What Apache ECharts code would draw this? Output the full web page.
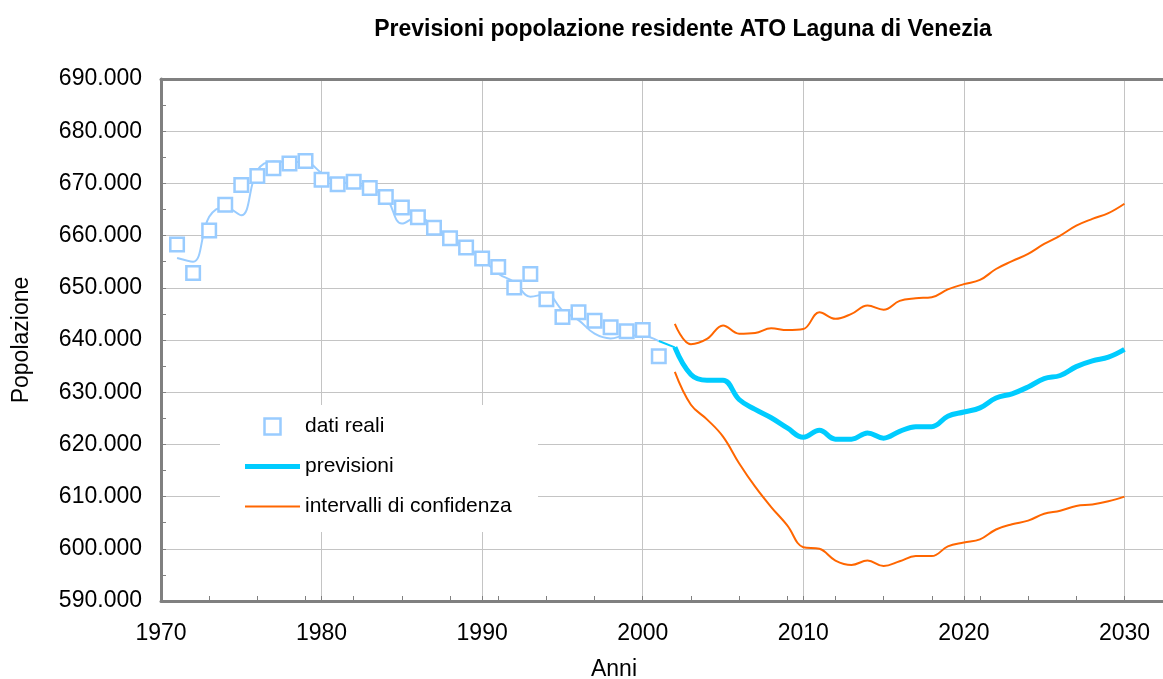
<!DOCTYPE html>
<html>
<head>
<meta charset="utf-8">
<script src="https://cdn.jsdelivr.net/npm/echarts@6/dist/echarts.min.js"></script>
<style>
html,body{margin:0;padding:0;background:#fff}
#chart{width:1163px;height:679px}
</style>
</head>
<body>
<div id="chart"></div>
<script>
// dati reali (quadratini)
var anniReali = [1971,1972,1973,1974,1975,1976,1977,1978,1979,1980,1981,1982,1983,1984,1985,1986,1987,1988,1989,1990,1991,1992,1993,1994,1995,1996,1997,1998,1999,2000,2001];
var datiReali = [658300,652850,661000,665900,669700,671400,672900,673800,674300,670700,669850,670300,669100,667400,665400,663500,661500,659500,657700,655600,654000,650060,652660,647800,644400,645300,643700,642450,641700,641900,636900];
// curva stimata sui dati reali (linea sottile)
var stimaReali = [655700,655000,663600,665500,663900,672500,674200,674100,674100,672000,670300,670000,669000,667400,662300,663600,661700,659400,657800,655600,652700,651100,648300,648800,645700,643800,641200,640300,640900,640800,639800];
// raccordo 2001-2002
var anniRaccordo = [2001,2002];
var raccordo = [639800,638600];
// previsioni
var anniPrev = [2002,2003,2004,2005,2006,2007,2008,2009,2010,2011,2012,2013,2014,2015,2016,2017,2018,2019,2020,2021,2022,2023,2024,2025,2026,2027,2028,2029,2030];
var previsioni = [638600,633400,632300,632300,628600,626700,625100,623150,621350,622700,621000,621000,622200,621200,622500,623400,623400,625400,626200,627000,628900,629700,631000,632600,633200,634900,636000,636700,638200];
var confSup = [643100,639200,640200,642800,641200,641350,642250,641900,642100,645300,644050,645000,646600,645800,647500,648000,648200,649700,650700,651500,653600,655100,656500,658400,660000,661900,663200,664300,666100];
var confInf = [633900,627600,624800,621500,616400,611900,608000,604500,600300,600000,597750,596900,597750,596700,597600,598600,598600,600450,601200,601800,603700,604700,605400,606700,607300,608200,608500,609100,610000];

function coppie(xs, ys){
  var out = [];
  for (var i = 0; i < xs.length; i++) out.push([xs[i], ys[i]]);
  return out;
}
function migliaia(v){
  var s = Math.round(v).toString();
  return s.replace(/\B(?=(\d{3})+(?!\d))/g, '.');
}

var font = 'Liberation Sans, Arial, Helvetica, sans-serif';
var grigio = '#808080';
var xMax = 2032.4;

var myChart = echarts.init(document.getElementById('chart'));
var option = {
  animation: false,
  textStyle: {fontFamily: font},
  title: {
    text: 'Previsioni popolazione residente ATO Laguna di Venezia',
    left: 678, top: 13, textAlign: 'center',
    textStyle: {fontSize: 23, fontWeight: 'bold', color: '#000', fontFamily: font}
  },
  grid: {left: 161, right: 0, top: 79, bottom: 78, containLabel: false, outerBoundsMode: 'none'},
  legend: {
    orient: 'vertical', left: 245, top: 416, padding: 0,
    itemWidth: 55, itemHeight: 16, itemGap: 19,
    data: [{
      name: 'dati reali', icon: 'path://M0,0L10,0L10,10L0,10Z',
      itemStyle: {color: '#fff', borderColor: '#99CCFF', borderWidth: 2.5}
    }, {
      name: 'previsioni', icon: 'path://M0,0L55,0L55,5L0,5Z',
      itemStyle: {color: '#00CCFF', borderWidth: 0}
    }, {
      name: 'intervalli di confidenza', icon: 'path://M0,0L55,0L55,2L0,2Z',
      itemStyle: {color: '#FF6600', borderWidth: 0}
    }],
    textStyle: {fontSize: 21, color: '#000', fontFamily: font}
  },
  graphic: [{
    type: 'rect', z: 1, silent: true,
    shape: {x: 220, y: 405, width: 318, height: 127},
    style: {fill: '#fff'}
  }],
  xAxis: [{
    type: 'value', min: 1970, max: xMax, interval: 10, position: 'bottom',
    axisLine: {lineStyle: {color: grigio, width: 3}},
    axisTick: {inside: true, length: 5, lineStyle: {color: grigio}},
    splitLine: {show: true, lineStyle: {color: '#c4c4c4', width: 1}},
    axisLabel: {fontSize: 23, color: '#000', margin: 21, showMaxLabel: false,
      formatter: function (v) { return v % 10 === 0 ? String(v) : ''; }},
    name: 'Anni', nameLocation: 'middle', nameGap: 57,
    nameTextStyle: {fontSize: 23, color: '#000', padding: [0, 96, 0, 0]}
  }, {
    type: 'value', min: 1970, max: xMax, interval: 3, position: 'bottom',
    axisLine: {show: false},
    axisTick: {inside: true, length: 5, lineStyle: {color: grigio}},
    splitLine: {show: false},
    axisLabel: {show: false}
  }, {
    type: 'value', min: 1970, max: xMax, position: 'top',
    axisLine: {lineStyle: {color: grigio, width: 3}},
    axisTick: {show: false}, splitLine: {show: false}, axisLabel: {show: false}
  }],
  yAxis: {
    type: 'value', min: 590000, max: 690000, interval: 10000,
    axisLine: {show: true, lineStyle: {color: grigio, width: 3}},
    axisTick: {show: true, inside: true, length: 5, lineStyle: {color: grigio}},
    minorTick: {show: true, splitNumber: 2, length: 5, lineStyle: {color: grigio}},
    splitLine: {lineStyle: {color: '#c4c4c4', width: 1}},
    axisLabel: {fontSize: 23, color: '#000', margin: 19, formatter: migliaia},
    name: 'Popolazione', nameLocation: 'middle', nameGap: 128,
    nameTextStyle: {fontSize: 23, color: '#000'}
  },
  series: [{
    name: 'stima', type: 'line', data: coppie(anniReali, stimaReali),
    symbol: 'none', smooth: 0.4, z: 2,
    lineStyle: {color: '#99CCFF', width: 2}
  }, {
    name: 'raccordo', type: 'line', data: coppie(anniRaccordo, raccordo),
    symbol: 'none', z: 2,
    lineStyle: {color: '#00CCFF', width: 2}
  }, {
    name: 'dati reali', type: 'scatter', data: coppie(anniReali, datiReali),
    symbol: 'rect', symbolSize: 13.5, z: 3,
    itemStyle: {color: '#fff', borderColor: '#99CCFF', borderWidth: 2.5, opacity: 1}
  }, {
    name: 'previsioni', type: 'line', data: coppie(anniPrev, previsioni),
    symbol: 'none', smooth: 0.4, z: 2,
    itemStyle: {color: '#00CCFF'},
    lineStyle: {color: '#00CCFF', width: 5}
  }, {
    name: 'intervalli di confidenza', type: 'line', data: coppie(anniPrev, confSup),
    symbol: 'none', smooth: 0.4, z: 2,
    itemStyle: {color: '#FF6600'},
    lineStyle: {color: '#FF6600', width: 2}
  }, {
    name: 'intervalli di confidenza', type: 'line', data: coppie(anniPrev, confInf),
    symbol: 'none', smooth: 0.4, z: 2,
    itemStyle: {color: '#FF6600'},
    lineStyle: {color: '#FF6600', width: 2}
  }]
};
myChart.setOption(option);
window.onresize = function () {
  myChart.resize();
};
</script>
</body>
</html>
